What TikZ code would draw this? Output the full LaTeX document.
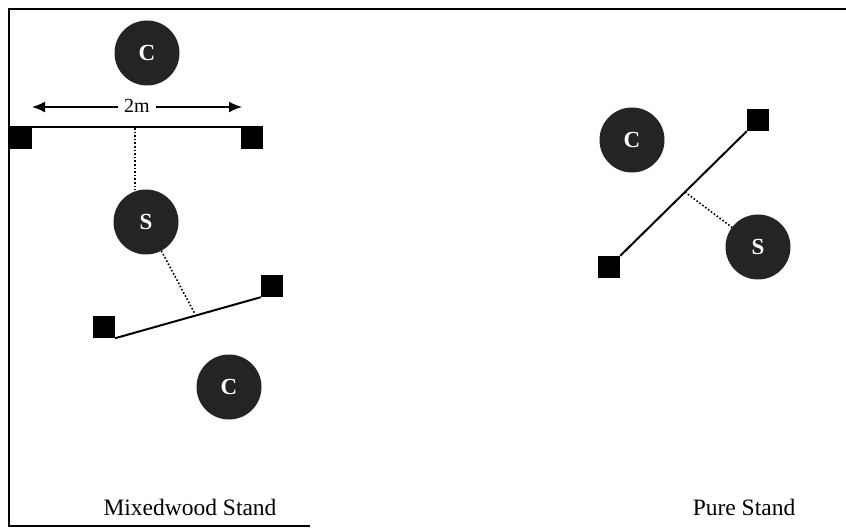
\documentclass[tikz,border=0pt]{standalone}
\usepackage{fontspec}
\setmainfont{Liberation Serif}
\usetikzlibrary{arrows.meta}
\begin{document}
\begin{tikzpicture}[x=1pt,y=-1pt,
  tree/.style={circle,fill=black!86,minimum size=65pt,inner sep=0pt,text=white,font=\fontsize{23}{23}\selectfont\bfseries},
  post/.style={rectangle,fill=black,minimum size=22pt,inner sep=0pt},
  tape/.style={line width=2pt},
  gap/.style={line width=1.6pt,dotted},
  frame/.style={line width=2pt},
  lbl/.style={font=\fontsize{23.5}{23.5}\selectfont,inner sep=0pt},
  dimarrow/.style={line width=1.6pt,-{Latex[length=13pt,width=11pt]}}]
\useasboundingbox (0,0) rectangle (846,529);
% frame
\draw[frame] (846,9) -- (9,9) -- (9,526) -- (310,526);
% Mixedwood stand
\node[tree] (C1) at (147,53) {C};
\node[inner sep=0pt,font=\fontsize{20}{20}\selectfont] (dim) at (137,106) {2m};
\coordinate (aL) at (32,107);
\coordinate (aR) at (242,107);
\draw[dimarrow] ([xshift=-6pt]dim.west |- aL) -- (aL);
\draw[dimarrow] ([xshift=6pt]dim.east |- aR) -- (aR);
\node[post] (P1) at (21,138) {};
\node[post] (P2) at (252,138) {};
\draw[tape] (P1.north west) -- (P2.north east);
\coordinate (m1) at (135,128);
\node[tree] (S1) at (146,222) {S};
\draw[gap] (m1) -- (m1 |- S1.north);
\node[post] (P3) at (104,327) {};
\node[post] (P4) at (272,286) {};
\draw[tape] (P3.south east) -- (P4.south west);
\coordinate (m2) at (195,314);
\draw[gap] (S1) -- (m2);
\node[tree] (C2) at (229,387) {C};
\node[lbl] (L1) at (190,507) {Mixedwood Stand};
% Pure stand
\node[tree] (C3) at (632,140) {C};
\node[post] (P5) at (758,120) {};
\node[post] (P6) at (609,267) {};
\draw[tape] (P6.north east) -- (P5.south west);
\node[tree] (S2) at (758,247) {S};
\coordinate (m3) at (685,192);
\draw[gap] (m3) -- (S2);
\node[lbl] (L2) at (744,507) {Pure Stand};
\end{tikzpicture}
\end{document}
